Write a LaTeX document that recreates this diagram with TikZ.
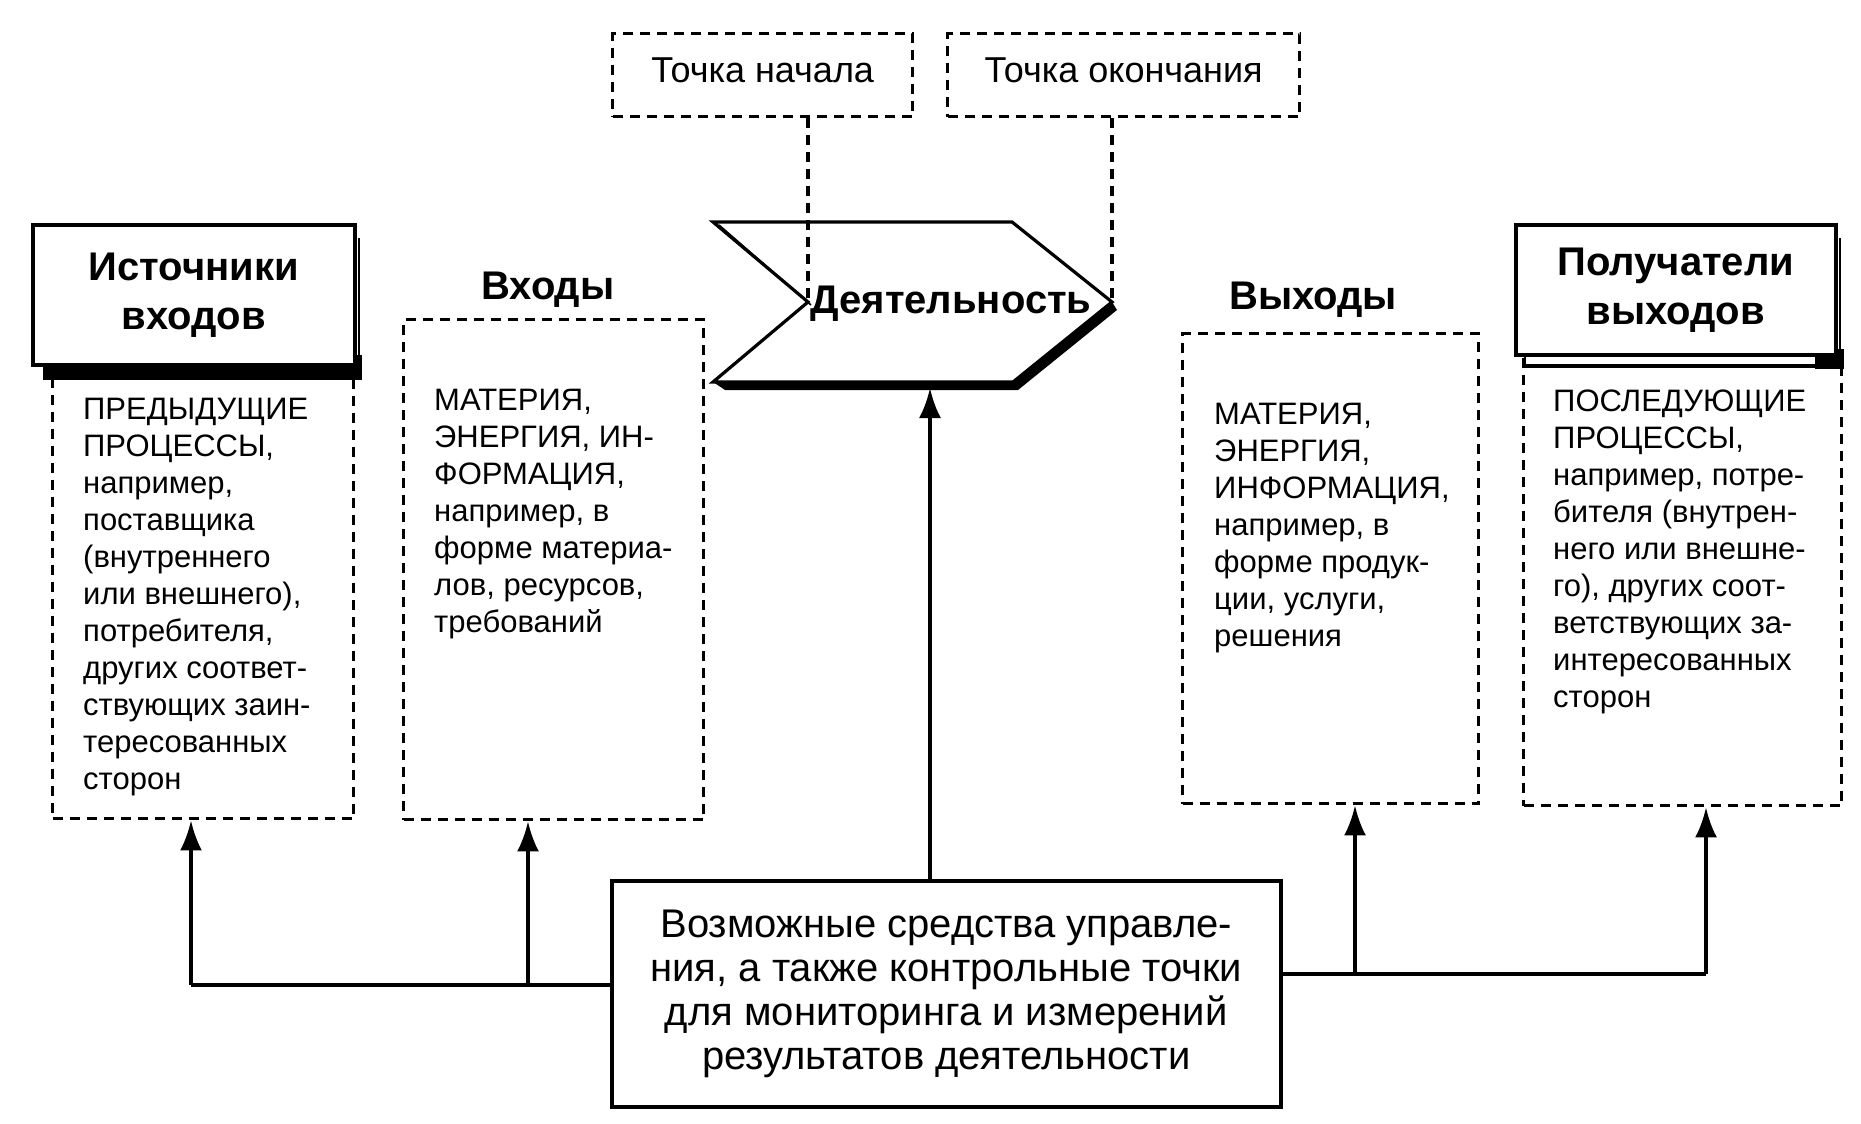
\documentclass[tikz,border=0pt]{standalone}
\usepackage{fontspec}
\setmainfont{Liberation Sans}
\usetikzlibrary{arrows.meta,calc}
\begin{document}
\begin{tikzpicture}[x=1pt,y=-1pt,
  conn/.style={line width=3.6pt},
  arr/.style={line width=3.6pt,-{Latex[length=30pt,width=22pt]}},
  dline/.style={line width=3.4pt,dash pattern=on 10pt off 7pt},
  dbox/.style={draw,line width=3.4pt,dash pattern=on 10pt off 7pt,inner sep=0,anchor=north west},
  hbox/.style={draw,line width=3.6pt,fill=white,inner sep=0,anchor=north west,align=center,font=\fontsize{40}{49}\selectfont\bfseries},
  body/.style={inner sep=0,anchor=north west,align=left,font=\fontsize{31}{37}\selectfont},
  lbl/.style={inner sep=0,font=\fontsize{40}{44}\selectfont\bfseries},
  tlbl/.style={font=\fontsize{36}{40}\selectfont,text depth=11pt},
]
\useasboundingbox[fill=white] (0,0) rectangle (1861,1124);

% dashed content boxes
\node[dbox,minimum width=301,minimum height=455] (srcd) at (51,362) {};
\node[dbox,minimum width=300,minimum height=500] (ind) at (402,318) {};
\node[dbox,minimum width=296,minimum height=470] (outd) at (1181,332) {};
\node[dbox,minimum width=318,minimum height=450] (rcpd) at (1522,354) {};

% top dashed boxes
\node[dbox,tlbl,minimum width=300,minimum height=83] (tstart) at (611,32) {Точка начала};
\node[dbox,tlbl,minimum width=352,minimum height=83] (tend) at (946,32) {Точка окончания};

% body texts
\node[body] (srct) at (83,398) {ПРЕДЫДУЩИЕ\\ПРОЦЕССЫ,\\например,\\поставщика\\(внутреннего\\или внешнего),\\потребителя,\\других соответ-\\ствующих заин-\\тересованных\\сторон};
\node[body] (int) at (434,389) {МАТЕРИЯ,\\ЭНЕРГИЯ, ИН-\\ФОРМАЦИЯ,\\например, в\\форме материа-\\лов, ресурсов,\\требований};
\node[body] (outt) at (1214,403) {МАТЕРИЯ,\\ЭНЕРГИЯ,\\ИНФОРМАЦИЯ,\\например, в\\форме продук-\\ции, услуги,\\решения};
\node[body] (rcpt) at (1553,390) {ПОСЛЕДУЮЩИЕ\\ПРОЦЕССЫ,\\например, потре-\\бителя (внутрен-\\него или внешне-\\го), других соот-\\ветствующих за-\\интересованных\\сторон};

% header shadows
\fill (43,355) rectangle (362,380);
\draw[line width=2.4pt] (359,238) -- (359,368);
\draw[line width=2.5pt,fill=white] (1525,350) rectangle (1843,367);
\draw[line width=4pt] (1525,366) -- (1843,366);
\fill (1815,350) rectangle (1844,369);
\draw[line width=2.4pt] (1840,238) -- (1840,355);

% headers
\node[hbox,minimum width=322,minimum height=140] (src) at (31,223) {Источники\\входов};
\node[hbox,minimum width=320,minimum height=130] (rcp) at (1514,223) {Получатели\\выходов};

\node[lbl] (inl) at (548,290) {Входы};
\node[lbl] (outl) at (1313,300) {Выходы};

% activity shape
\coordinate (a1) at (713,222);
\coordinate (a2) at (1012,222);
\coordinate (a3) at (1112,302);
\coordinate (a4) at (1013,382);
\coordinate (a5) at (713,382);
\coordinate (a6) at (808,302);
\fill ([shift={(12,8)}]a5) -- ([shift={(5,8)}]a4) -- ([shift={(5,8)}]a3) -- (a3) -- (a4) -- (a5) -- cycle;
\draw[line width=3.2pt,fill=white,line join=miter] (a1) -- (a2) -- (a3) -- (a4) -- (a5) -- (a6) -- cycle;
\draw[line width=1.6pt] ([shift={(6,3)}]a1) -- ([shift={(3,3)}]a6);
\draw[dline] (a6 |- tstart.south) -- (a6);
\draw[dline] (a3 |- tend.south) -- (a3);
\node[lbl] (act) at (951,304) {Деятельность};

% control box
\node[draw,line width=3.6pt,inner sep=0,anchor=north west,minimum width=669,minimum height=226,align=center,font=\fontsize{40}{44}\selectfont] (ctrl) at (610,879) {Возможные средства управле-\\ния, а также контрольные точки\\для мониторинга и измерений\\результатов деятельности};

% connectors
\coordinate (actbot) at (930,388);
\draw[arr] (ctrl.north -| actbot) -- (actbot);
\coordinate (lbus) at (0,985);
\coordinate (rbus) at (0,974);
\coordinate (ax1) at (191,0);
\coordinate (ax2) at (528,0);
\coordinate (ax3) at (1355,0);
\coordinate (ax4) at (1706,0);
\draw[conn] (ctrl.west |- lbus) -- (ax1 |- lbus);
\draw[arr] (ax1 |- lbus) -- (ax1 |- srcd.south);
\draw[arr] (ax2 |- lbus) -- (ax2 |- ind.south);
\draw[conn] (ctrl.east |- rbus) -- (ax4 |- rbus);
\draw[arr] (ax3 |- rbus) -- (ax3 |- outd.south);
\draw[arr] (ax4 |- rbus) -- (ax4 |- rcpd.south);
\end{tikzpicture}
\end{document}
